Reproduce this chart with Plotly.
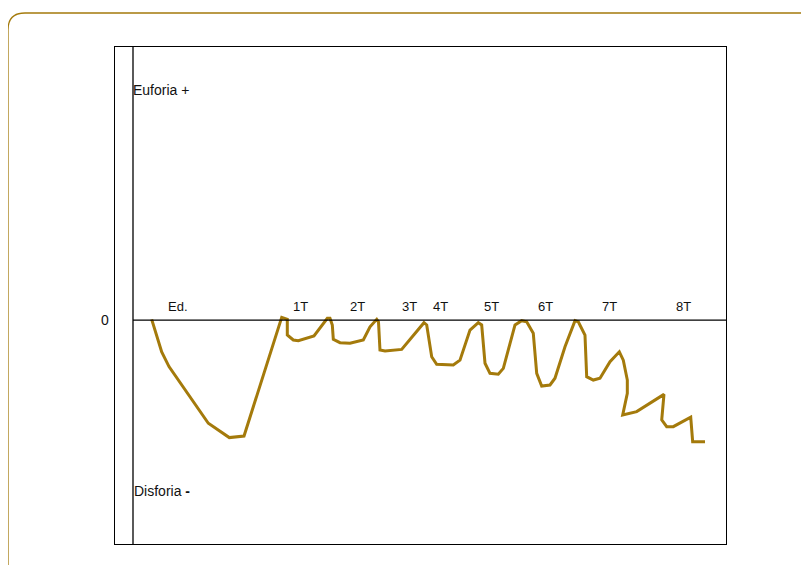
import plotly.graph_objects as go

# ---- data ----
# time axis in arbitrary units (0..100); mood axis: 0 = neutral, + = euphoria, - = dysphoria
time = [3.15, 4.84, 6.07, 9.61, 12.70, 16.24, 18.72, 25.08, 26.02, 26.02, 27.03, 27.88, 30.52,
        32.77, 33.22, 33.61, 33.78, 34.91, 36.59, 38.84, 39.97, 41.10, 41.40, 41.65, 42.50,
        45.31, 49.07, 49.53, 50.37, 51.21, 54.01, 55.14, 56.83, 58.23, 58.80, 59.36, 60.20,
        61.60, 62.45, 64.42, 65.55, 66.39, 67.50, 68.08, 68.92, 70.32, 71.16, 72.85, 74.54,
        75.09, 76.22, 76.51, 77.62, 78.75, 80.44, 82.01, 82.68, 83.36, 83.36, 82.58, 84.94,
        89.54, 89.16, 90.00, 91.11, 94.05, 94.38, 96.46]
mood = [0.03, -1.42, -2.08, -3.42, -4.61, -5.25, -5.18, 0.12, 0.03, -0.67, -0.89, -0.92, -0.71,
        0.08, 0.08, -0.22, -0.86, -1.01, -1.04, -0.89, -0.30, 0.03, -0.09, -1.34, -1.38,
        -1.31, -0.12, -0.22, -1.64, -1.98, -2.01, -1.79, -0.45, -0.12, -0.22, -1.93, -2.38,
        -2.42, -2.16, -0.22, -0.03, -0.08, -0.59, -2.38, -2.95, -2.90, -2.60, -1.19, -0.03,
        -0.08, -0.67, -2.53, -2.68, -2.60, -1.86, -1.42, -1.79, -2.68, -3.27, -4.24, -4.09,
        -3.32, -4.46, -4.76, -4.76, -4.34, -5.43, -5.43]

phase_labels = ["Ed.", "1T", "2T", "3T", "4T", "5T", "6T", "7T", "8T"]
phase_x = [7.6, 28.2, 37.8, 46.7, 51.9, 60.4, 69.6, 80.4, 92.9]
label_y = 0.62

GOLD = "#A47A0B"
FONT = "Liberation Sans, Arial, Helvetica, sans-serif"
W, H = 801, 557  # page body has an 8px margin

# plot-area edges in figure pixels
L, R, T, B = 107, 718, 39, 536
def px(x):
    return (x - L) / (R - L)
def py(y):
    return (B - y) / (B - T)

fig = go.Figure()
fig.add_trace(go.Scatter(x=time, y=mood, mode="lines",
                         line=dict(color=GOLD, width=3),
                         hoverinfo="skip", showlegend=False))

for lab, xv in zip(phase_labels, phase_x):
    fig.add_annotation(x=xv, y=label_y, text=lab, showarrow=False,
                       font=dict(size=13, color="#111", family=FONT),
                       xanchor="center", yanchor="middle")

fig.add_annotation(x=-0.3, y=10.27, text="Euforia +", showarrow=False, xanchor="left",
                   font=dict(size=14, color="#111", family=FONT))
fig.add_annotation(x=-0.1, y=-7.63, text="Disforia <b>-</b>", showarrow=False, xanchor="left",
                   font=dict(size=14, color="#111", family=FONT))
fig.add_annotation(xref="paper", x=px(97), y=0, text="0", showarrow=False, xanchor="center",
                   font=dict(size=14, color="#111", family=FONT))

# zero line and inner vertical line
fig.add_shape(type="line", x0=0, x1=100, y0=0, y1=0, line=dict(color="black", width=1.3))
fig.add_shape(type="line", x0=0, x1=0, y0=-10, y1=12.19, line=dict(color="black", width=1.3))

# rounded outer decorative frame
r = 17
path = (f"M {px(0)},{py(600)} L {px(0)},{py(5 + r)} "
        f"Q {px(0)},{py(5)} {px(r)},{py(5)} L {px(840)},{py(5)}")
fig.add_shape(type="path", xref="paper", yref="paper", path=path,
              line=dict(color=GOLD, width=1.3))

fig.update_xaxes(range=[-3.035, 100], showgrid=False, zeroline=False, showticklabels=False,
                 ticks="", showline=True, mirror=True, linecolor="black", linewidth=1.3)
fig.update_yaxes(range=[-10, 12.19], showgrid=False, zeroline=False, showticklabels=False,
                 ticks="", showline=True, mirror=True, linecolor="black", linewidth=1.3)

fig.update_layout(width=W, height=H, margin=dict(l=L, r=W - R, t=T, b=H - B),
                  paper_bgcolor="white", plot_bgcolor="white", showlegend=False,
                  font=dict(family=FONT))

fig.write_html("out.html")
